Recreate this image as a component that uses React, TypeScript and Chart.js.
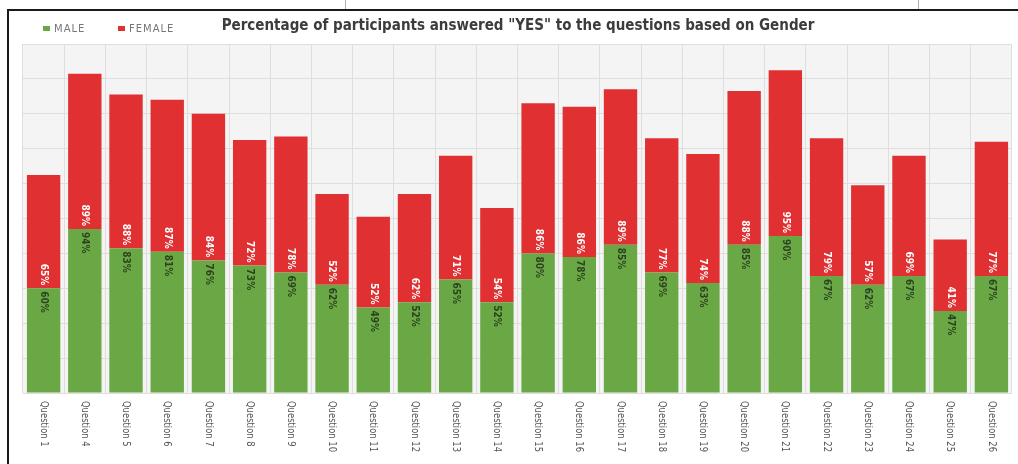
import React, { useEffect, useRef } from "react";
import { Chart, registerables } from "chart.js";

Chart.register(...registerables);

const categories = [
  "Question 1", "Question 4", "Question 5", "Question 6", "Question 7", "Question 8",
  "Question 9", "Question 10", "Question 11", "Question 12", "Question 13", "Question 14",
  "Question 15", "Question 16", "Question 17", "Question 18", "Question 19", "Question 20",
  "Question 21", "Question 22", "Question 23", "Question 24", "Question 25", "Question 26",
];
const maleValues = [60, 94, 83, 81, 76, 73, 69, 62, 49, 52, 65, 52, 80, 78, 85, 69, 63, 85, 90, 67, 62, 67, 47, 67];
const femaleValues = [65, 89, 88, 87, 84, 72, 78, 52, 52, 62, 71, 54, 86, 86, 89, 77, 74, 88, 95, 79, 57, 69, 41, 77];
const seriesNames = ["MALE", "FEMALE"];
const titleText = 'Percentage of participants answered "YES" to the questions based on Gender';

const GREEN = "#6aa845";
const RED = "#e03032";

const decorPlugin = {
  id: "decor",
  beforeDraw(chart: any) {
    const { ctx, chartArea } = chart;
    ctx.save();
    ctx.fillStyle = "#ffffff";
    ctx.fillRect(0, 0, chart.width, chart.height);
    ctx.fillStyle = "#f4f4f4";
    ctx.fillRect(chartArea.left, chartArea.top, chartArea.right - chartArea.left, chartArea.bottom - chartArea.top);
    // frame
    ctx.fillStyle = "#1a1a1a";
    ctx.fillRect(7, 9, chart.width - 7, 2);
    ctx.fillRect(7, 9, 2, chart.height - 9);
    ctx.fillStyle = "#b0b0b0";
    ctx.fillRect(345, 0, 1, 9);
    ctx.fillRect(918, 0, 1, 9);
    ctx.restore();
  },
  afterDraw(chart: any) {
    const { ctx } = chart;
    ctx.save();
    // legend
    const legendItems = [
      { x: 43, color: GREEN, text: seriesNames[0] },
      { x: 118, color: RED, text: seriesNames[1] },
    ];
    ctx.font = '10px "DejaVu Sans", sans-serif';
    (ctx as any).letterSpacing = "1px";
    ctx.textBaseline = "middle";
    ctx.textAlign = "left";
    legendItems.forEach((it) => {
      ctx.fillStyle = it.color;
      ctx.fillRect(it.x, 26, 7, 5);
      ctx.fillStyle = "#777";
      ctx.fillText(it.text, it.x + 11, 29);
    });
    (ctx as any).letterSpacing = "0px";
    // title
    ctx.font = 'bold 15px "DejaVu Sans Condensed", "DejaVu Sans", sans-serif';
    ctx.fillStyle = "#3c3c3c";
    ctx.textAlign = "center";
    ctx.textBaseline = "alphabetic";
    ctx.fillText(titleText, 518, 30);

    // x labels
    const xScale = chart.scales.x;
    ctx.font = '11px "DejaVu Sans Condensed", "DejaVu Sans", sans-serif';
    ctx.fillStyle = "#555";
    ctx.textAlign = "left";
    ctx.textBaseline = "middle";
    categories.forEach((c, i) => {
      const x = xScale.getPixelForValue(i);
      ctx.save();
      ctx.translate(x, 401);
      ctx.rotate(Math.PI / 2);
      ctx.scale(0.85, 1);
      ctx.fillText(c, 0, 0);
      ctx.restore();
    });

    // value labels
    ctx.font = 'bold 10px "DejaVu Sans Condensed", "DejaVu Sans", sans-serif';
    const maleMeta = chart.getDatasetMeta(0);
    const femaleMeta = chart.getDatasetMeta(1);
    maleMeta.data.forEach((bar: any, i: number) => {
      ctx.save();
      ctx.translate(bar.x, bar.y + 3);
      ctx.rotate(Math.PI / 2);
      ctx.textAlign = "left";
      ctx.fillStyle = "#2c4220";
      ctx.fillText(maleValues[i] + "%", 0, 0);
      ctx.restore();
    });
    femaleMeta.data.forEach((bar: any, i: number) => {
      ctx.save();
      ctx.translate(bar.x, bar.base - 3);
      ctx.rotate(Math.PI / 2);
      ctx.textAlign = "right";
      ctx.fillStyle = "#ffffff";
      ctx.fillText(femaleValues[i] + "%", 0, 0);
      ctx.restore();
    });
    ctx.restore();
  },
};

export default function App() {
  const canvasRef = useRef<HTMLCanvasElement | null>(null);

  useEffect(() => {
    document.body.style.margin = "0";
    const canvas = canvasRef.current;
    if (!canvas) return;
    const chart = new Chart(canvas, {
      type: "bar",
      data: {
        labels: categories,
        datasets: [
          { label: seriesNames[0], data: maleValues, backgroundColor: GREEN, borderWidth: 0 },
          { label: seriesNames[1], data: femaleValues, backgroundColor: RED, borderWidth: 0 },
        ],
      },
      options: {
        responsive: false,
        animation: false,
        events: [],
        layout: { padding: { left: 23, right: 6, top: 44, bottom: 71 } },
        datasets: { bar: { barPercentage: 0.81, categoryPercentage: 1 } },
        plugins: { legend: { display: false }, tooltip: { enabled: false }, title: { display: false } },
        scales: {
          x: {
            stacked: true,
            ticks: { display: false },
            border: { display: false },
            grid: { color: "#dedede", drawTicks: false, offset: true },
            afterFit: (s: any) => { s.height = 0; },
          },
          y: {
            stacked: true,
            min: 0,
            max: 200,
            ticks: { display: false, stepSize: 20 },
            border: { display: false },
            grid: { color: "#dedede", drawTicks: false },
            afterFit: (s: any) => { s.width = 0; },
          },
        },
      },
      plugins: [decorPlugin],
    });
    return () => chart.destroy();
  }, []);

  return (
    <div style={{ width: 1018, height: 464 }}>
      <canvas ref={canvasRef} width={1018} height={464} style={{ display: "block" }} />
    </div>
  );
}
